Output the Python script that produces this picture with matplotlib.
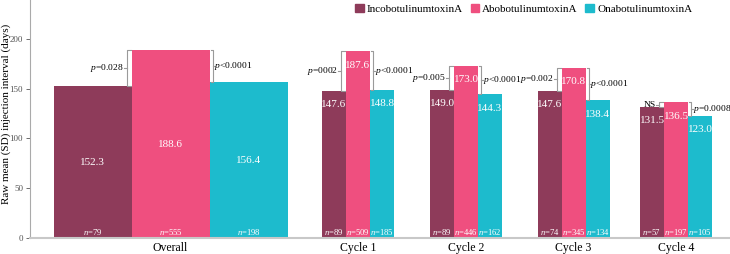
import matplotlib.pyplot as plt
from matplotlib.patches import Patch

plt.rcParams['font.family'] = ['Liberation Serif', 'DejaVu Serif']
plt.rcParams['mathtext.fontset'] = 'custom'
plt.rcParams['mathtext.rm'] = 'Liberation Serif'
plt.rcParams['mathtext.it'] = 'Liberation Serif:italic'

groups = ['Overall', 'Cycle 1', 'Cycle 2', 'Cycle 3', 'Cycle 4']
toxins = ['IncobotulinumtoxinA', 'AbobotulinumtoxinA', 'OnabotulinumtoxinA']
inco = [152.3, 147.6, 149.0, 147.6, 131.5]
abo = [188.6, 187.6, 173.0, 170.8, 136.5]
ona = [156.4, 148.8, 144.3, 138.4, 123.0]
n_inco = [79, 89, 89, 74, 57]
n_abo = [555, 509, 446, 345, 197]
n_ona = [198, 185, 162, 134, 105]
p_left = ['$\\mathit{p}$=0.028', '$\\mathit{p}$=0002', '$\\mathit{p}$=0.005',
          '$\\mathit{p}$=0.002', 'NS']
p_right = ['$\\mathit{p}$<0.0001', '$\\mathit{p}$<0.0001', '$\\mathit{p}$<0.0001',
           '$\\mathit{p}$<0.0001', '$\\mathit{p}$=0.0008']

colors = ['#8E3B5A', '#EF4F7F', '#1DBBCD']

# layout (x in axis units ~ pixels)
centers = [170.5, 358, 466, 573.5, 676]
widths = [78, 24, 24, 24, 24]

fig = plt.figure(figsize=(7.3, 2.54), dpi=100)
ax = fig.add_axes([30 / 730, 16 / 254, 700 / 730, 238 / 254])

series = [inco, abo, ona]
counts = [n_inco, n_abo, n_ona]
for gi, c in enumerate(centers):
    w = widths[gi]
    for si in range(3):
        x = c + (si - 1) * w
        v = series[si][gi]
        ax.bar(x, v, width=w, color=colors[si], linewidth=0)
        ly = v / 2 if gi == 0 else v - 14
        ax.text(x, ly, f'{v:.1f}', color='white', ha='center', va='center', fontsize=8)
        ax.text(x, 6, f'$\\mathit{{n}}$={counts[si][gi]}', color='white',
                ha='center', va='center', fontsize=6.2)

    # brackets
    pl = c - w / 2
    pr = c + w / 2
    top = abo[gi]
    bc = '#9A9A9A'
    # left
    xl = pl - 5
    lo = inco[gi]
    ax.plot([pl - 1, xl, xl, pl - 1], [top, top, lo, lo], color=bc, lw=0.8)
    mid = (top + lo) / 2
    ax.plot([xl - 3, xl], [mid, mid], color=bc, lw=0.8)
    ax.text(xl - 3, mid, p_left[gi], ha='right', va='center', fontsize=6.8)
    # right
    xr = pr + 3
    lo = ona[gi]
    ax.plot([pr + 1, xr, xr, pr + 1], [top, top, lo, lo], color=bc, lw=0.8)
    mid = (top + lo) / 2
    ax.plot([xr, xr + 2], [mid, mid], color=bc, lw=0.8)
    ax.text(xr + 2, mid, p_right[gi], ha='left', va='center', fontsize=6.8)

ax.set_xlim(30, 730)
ax.set_ylim(0, 239)
ax.set_xticks(centers)
ax.set_xticklabels(groups, fontsize=8.5)
ax.tick_params(axis='x', length=0, pad=3)
ax.set_yticks([0, 50, 100, 150, 200])
ax.tick_params(axis='y', labelsize=6.5, colors='#555555', length=3, width=0.6, pad=2)
ax.set_ylabel('Raw mean (SD) injection interval (days)', fontsize=8)
ax.yaxis.set_label_coords(-0.0275, 0.52)

for s in ['top', 'right']:
    ax.spines[s].set_visible(False)
ax.spines['left'].set_color('#AAAAAA')
ax.spines['left'].set_linewidth(0.8)
ax.spines['bottom'].set_color('#C8C8C8')
ax.spines['bottom'].set_linewidth(1.5)

handles = [Patch(color=colors[i], label=toxins[i]) for i in range(3)]
fig.legend(handles=handles, loc='upper right', bbox_to_anchor=(0.962, 1.025), ncol=3,
           frameon=False, fontsize=8, handlelength=0.8, handleheight=0.8,
           handletextpad=0.25, columnspacing=0.7)

fig.savefig('out.png', dpi=100)
